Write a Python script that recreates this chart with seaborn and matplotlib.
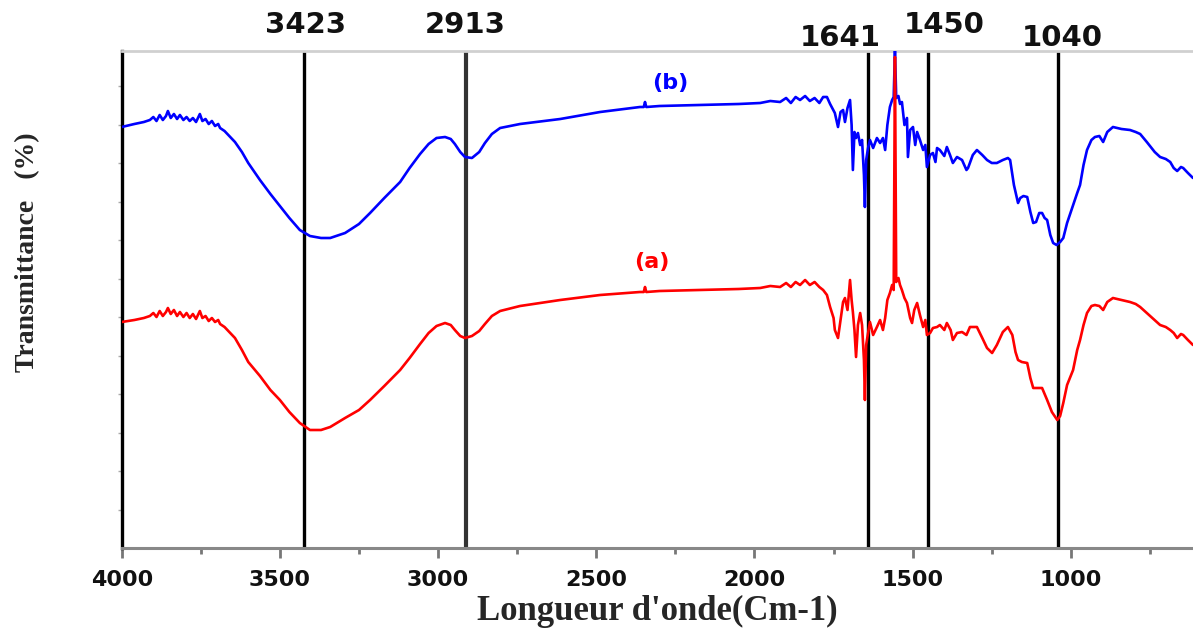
import numpy as np
import pandas as pd
import seaborn as sns
import matplotlib
matplotlib.use("Agg")
import matplotlib.pyplot as plt
import matplotlib.transforms as mtransforms

# ---------------- data ----------------
wn_b = [4000, 3960, 3930, 3911, 3900, 3890, 3880, 3870, 3860, 3854, 3845, 3835, 3825, 3816, 3805,
        3795, 3785, 3775, 3765, 3753, 3745, 3735, 3725, 3715, 3705, 3695, 3689, 3675, 3660, 3642,
        3620, 3600, 3563, 3530, 3500, 3470, 3437, 3405, 3370, 3341, 3294, 3250, 3215, 3170, 3120,
        3090, 3057, 3030, 3005, 2978, 2960, 2947, 2930, 2915, 2893, 2870, 2852, 2830, 2804, 2741,
        2614, 2488, 2362, 2350, 2346, 2342, 2300, 2172, 2050, 1982, 1950, 1919, 1900, 1885, 1870,
        1856, 1840, 1825, 1810, 1795, 1783, 1771, 1761, 1746, 1736, 1728, 1720, 1714, 1706, 1698,
        1693, 1689, 1684, 1679, 1673, 1666, 1660, 1654, 1651, 1647, 1641, 1635, 1625, 1613, 1603,
        1594, 1587, 1580, 1572, 1565, 1560, 1556, 1552, 1545, 1540, 1534, 1526, 1518, 1515, 1508,
        1499, 1492, 1486, 1477, 1467, 1460, 1455, 1445, 1436, 1428, 1423, 1414, 1400, 1392, 1382,
        1373, 1360, 1344, 1330, 1325, 1310, 1297, 1280, 1265, 1250, 1234, 1215, 1199, 1192, 1180,
        1167, 1160, 1150, 1138, 1128, 1119, 1110, 1100, 1091, 1083, 1075, 1065, 1056, 1045, 1034,
        1024, 1012, 993, 980, 971, 960, 949, 935, 924, 910, 898, 885, 867, 840, 813,
        795, 781, 760, 735, 718, 700, 686, 675, 664, 652, 645, 630, 614]
t_b = [84.2, 84.8, 85.2, 85.6, 86.2, 85.4, 86.6, 85.6, 86.4, 87.4, 86.0, 86.8, 85.8, 86.6, 85.6,
       86.2, 85.4, 86.0, 85.2, 86.8, 85.4, 85.8, 84.8, 85.4, 84.4, 84.8, 84.0, 83.4, 82.4, 81.2,
       79.2, 77.0, 73.6, 70.8, 68.4, 66.0, 63.6, 62.4, 62.0, 62.0, 63.0, 64.8, 67.0, 70.0, 73.2,
       76.0, 78.8, 80.8, 82.0, 82.2, 81.8, 80.8, 79.2, 78.2, 78.0, 79.2, 81.0, 82.8, 84.0, 84.8,
       85.8, 87.2, 88.2, 88.2, 89.2, 88.2, 88.4, 88.6, 88.8, 89.0, 89.4, 89.2, 90.0, 89.0, 90.2,
       89.6, 90.4, 89.4, 90.0, 89.0, 90.2, 90.2, 88.8, 87.0, 84.2, 87.2, 87.6, 85.2, 88.0, 89.6,
       84.6, 75.6, 83.2, 82.0, 83.0, 80.6, 81.6, 74.6, 68.2, 77.6, 80.0, 81.6, 80.0, 82.0, 81.0,
       82.0, 79.6, 84.6, 88.2, 89.6, 90.2, 99.4, 90.0, 90.4, 88.8, 89.2, 84.6, 86.0, 78.2, 83.6,
       84.2, 80.6, 83.2, 81.6, 79.6, 80.6, 76.2, 78.6, 79.0, 77.2, 80.0, 79.6, 78.4, 80.2, 78.6,
       77.0, 78.2, 77.6, 75.6, 76.0, 78.6, 79.6, 78.6, 77.6, 77.0, 77.0, 77.6, 78.0, 77.6, 72.6,
       69.0, 70.0, 70.4, 70.2, 67.2, 65.0, 65.2, 67.0, 67.0, 66.0, 65.6, 62.6, 61.0, 60.6, 61.2,
       62.0, 65.0, 68.6, 71.0, 72.6, 76.6, 79.6, 81.6, 82.2, 82.4, 81.2, 83.2, 84.2, 83.8, 83.6,
       83.2, 82.8, 81.2, 79.2, 78.2, 77.8, 77.2, 76.0, 75.4, 76.2, 76.0, 75.0, 74.0]

wn_a = [4000, 3960, 3930, 3911, 3900, 3890, 3880, 3870, 3860, 3854, 3845, 3835, 3825, 3816, 3805,
        3795, 3785, 3775, 3765, 3753, 3745, 3735, 3725, 3715, 3705, 3695, 3689, 3675, 3660, 3642,
        3620, 3600, 3563, 3530, 3500, 3470, 3437, 3405, 3370, 3341, 3294, 3250, 3215, 3170, 3120,
        3090, 3057, 3030, 3005, 2978, 2960, 2947, 2930, 2915, 2893, 2870, 2852, 2830, 2804, 2741,
        2614, 2488, 2362, 2350, 2346, 2342, 2300, 2172, 2050, 1982, 1950, 1919, 1900, 1885, 1870,
        1856, 1840, 1825, 1810, 1795, 1783, 1771, 1761, 1750, 1746, 1736, 1728, 1720, 1714, 1706,
        1698, 1693, 1689, 1684, 1679, 1673, 1666, 1660, 1654, 1651, 1647, 1641, 1635, 1625, 1613,
        1603, 1594, 1587, 1580, 1572, 1565, 1560, 1556, 1552, 1545, 1540, 1534, 1526, 1518, 1508,
        1502, 1495, 1486, 1477, 1467, 1460, 1455, 1445, 1436, 1423, 1414, 1400, 1392, 1380, 1373,
        1360, 1344, 1330, 1319, 1297, 1280, 1265, 1249, 1234, 1215, 1199, 1185, 1175, 1167, 1155,
        1138, 1128, 1119, 1105, 1091, 1075, 1060, 1043, 1034, 1024, 1012, 993, 980, 971, 960,
        949, 935, 924, 910, 898, 885, 867, 840, 813, 795, 781, 760, 735, 718, 700,
        686, 675, 664, 652, 645, 630, 614]
t_a = [45.2, 45.6, 46.0, 46.4, 47.0, 46.2, 47.4, 46.4, 47.2, 48.0, 46.8, 47.6, 46.4, 47.2, 46.2,
       47.0, 46.0, 46.8, 45.8, 47.4, 46.0, 46.4, 45.4, 46.0, 45.2, 45.6, 44.8, 44.2, 43.2, 42.0,
       39.6, 37.2, 34.4, 31.6, 29.6, 27.2, 25.0, 23.6, 23.6, 24.2, 26.0, 27.6, 29.6, 32.4, 35.6,
       38.0, 40.8, 43.0, 44.4, 45.0, 44.6, 43.6, 42.4, 42.0, 42.4, 43.4, 44.8, 46.4, 47.4, 48.4,
       49.6, 50.6, 51.2, 51.2, 52.2, 51.2, 51.4, 51.6, 51.8, 52.0, 52.4, 52.2, 53.0, 52.2, 53.2,
       52.6, 53.6, 52.6, 53.2, 52.2, 51.6, 50.6, 48.2, 46.0, 43.6, 42.0, 45.6, 49.2, 50.0, 47.6,
       53.6, 49.6, 47.2, 43.6, 38.2, 44.6, 47.0, 44.6, 37.6, 29.6, 40.6, 43.0, 45.2, 42.6, 44.2,
       45.6, 43.6, 46.0, 49.6, 51.0, 52.6, 51.6, 98.2, 53.2, 54.0, 52.6, 51.6, 50.0, 49.0, 46.0,
       45.0, 47.6, 49.0, 46.6, 44.2, 45.6, 42.6, 43.0, 44.0, 44.2, 44.6, 43.6, 45.0, 43.6, 41.6,
       43.0, 43.2, 42.6, 44.2, 44.2, 42.0, 40.0, 39.0, 40.6, 43.2, 44.2, 42.6, 39.2, 37.6, 37.2,
       37.0, 34.0, 32.0, 32.0, 32.0, 29.6, 27.2, 25.6, 26.4, 29.0, 32.6, 35.6, 39.6, 41.6, 44.6,
       47.0, 48.4, 48.6, 48.4, 47.6, 49.2, 50.0, 49.6, 49.2, 48.8, 48.2, 47.0, 45.6, 44.6, 44.2,
       43.6, 43.0, 42.0, 42.8, 42.6, 41.6, 40.6]

peaks = [3423, 2913, 1641, 1450, 1040]
peak_labels = ["3423", "2913", "1641", "1450", "1040"]
x_ticks = [4000, 3500, 3000, 2500, 2000, 1500, 1000]
x_tick_labels = ["4000", "3500", "3000", "2500", "2000", "1500", "1000"]
series_names = ["(b)", "(a)"]

# ---------------- styling / layout ----------------
sns.set_style("ticks")
plt.rcParams["font.family"] = ["DejaVu Sans"]

W, H = 1193, 631
fig = plt.figure(figsize=(W / 100, H / 100), dpi=100)
ax = fig.add_axes([121.7 / W, 1 - 548 / H, 1 - 121.7 / W, (548 - 51) / H])

df_b = pd.DataFrame({"wn": wn_b, "T": t_b})
df_a = pd.DataFrame({"wn": wn_a, "T": t_a})

# vertical reference lines
vline_styles = {3423: ("#000000", 2.4), 2913: ("#333333", 3.0), 1641: ("#000000", 2.4),
                1450: ("#000000", 2.4), 1040: ("#000000", 2.4)}
for p in peaks:
    c, lw = vline_styles[p]
    ax.axvline(p, color=c, lw=lw, zorder=1)

sns.lineplot(data=df_b, x="wn", y="T", color="#0000ff", lw=1.9, sort=False,
             estimator=None, ax=ax, zorder=3)
sns.lineplot(data=df_a, x="wn", y="T", color="#ff0000", lw=1.9, sort=False,
             estimator=None, ax=ax, zorder=4)

ax.set_xlim(4000, 614)
ax.set_ylim(0, 99.4)

# peak labels (x in data coords, y in axes coords)
trans = mtransforms.blended_transform_factory(ax.transData, ax.transAxes)
label_pos = {3423: (3420, 1.052), 2913: (2913, 1.052), 1641: (1730, 1.026),
             1450: (1401, 1.052), 1040: (1028, 1.026)}
for p, lab in zip(peaks, peak_labels):
    lx, ly = label_pos[p]
    ax.text(lx, ly, lab, transform=trans, ha="center", va="center",
            fontsize=21, fontweight="bold", color="#111111", clip_on=False)

# series labels
ax.text(2267, 93.0, series_names[0], color="#0000ff", fontsize=16, fontweight="bold",
        ha="center", va="center")
ax.text(2324, 57.2, series_names[1], color="#ff0000", fontsize=16, fontweight="bold",
        ha="center", va="center")

# ticks
ax.set_xticks(x_ticks)
ax.set_xticklabels(x_tick_labels, fontsize=16, fontweight="bold")
ax.set_xticks(np.arange(4000, 600, -250), minor=True)
ax.tick_params(axis="x", which="major", direction="out", length=7, width=2,
               color="#777777", pad=9, labelcolor="#111111")
ax.tick_params(axis="x", which="minor", direction="out", length=4, width=2, color="#777777")
ax.set_yticks(np.arange(7.7, 99, 7.7))
ax.set_yticklabels([])
ax.tick_params(axis="y", which="major", direction="out", length=3, width=1, color="#aaaaaa")

# spines
ax.spines["left"].set_color("#000000")
ax.spines["left"].set_linewidth(2.4)
ax.spines["bottom"].set_color("#888888")
ax.spines["bottom"].set_linewidth(2.2)
ax.spines["top"].set_visible(True)
ax.spines["top"].set_color("#d0d0d0")
ax.spines["top"].set_linewidth(2.0)
ax.spines["right"].set_visible(False)

# axis labels
ax.set_xlabel("Longueur d'onde(Cm-1)", fontsize=25, fontweight="bold",
              family=["Liberation Serif", "DejaVu Serif"])
ax.xaxis.set_label_coords(0.5, -0.1287)
ax.xaxis.label.set_va("center")
ax.set_ylabel("Transmittance   (%)", fontsize=20, fontweight="bold",
              family=["Liberation Serif", "DejaVu Serif"])
ax.yaxis.set_label_coords(-0.0875, 0.5956)
ax.yaxis.label.set_va("center")

fig.savefig("out.png", dpi=100)
